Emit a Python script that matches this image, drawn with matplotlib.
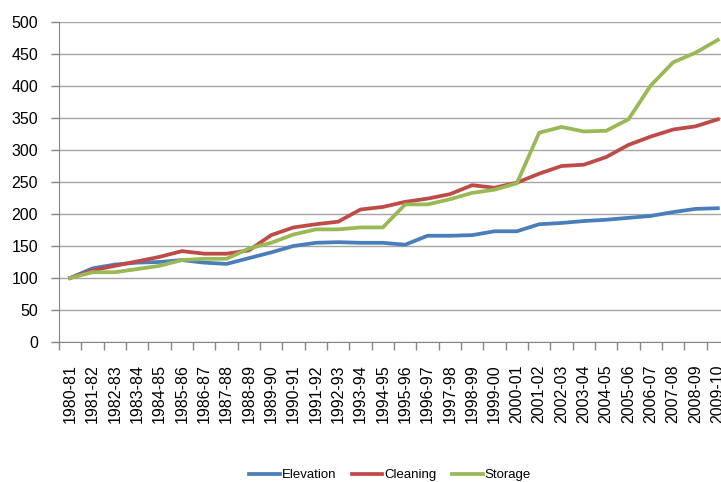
import numpy as np
import matplotlib.pyplot as plt

years = ['1980-81', '1981-82', '1982-83', '1983-84', '1984-85', '1985-86', '1986-87',
         '1987-88', '1988-89', '1989-90', '1990-91', '1991-92', '1992-93', '1993-94',
         '1994-95', '1995-96', '1996-97', '1997-98', '1998-99', '1999-00', '2000-01',
         '2001-02', '2002-03', '2003-04', '2004-05', '2005-06', '2006-07', '2007-08',
         '2008-09', '2009-10']

elevation = [100, 115, 121, 124, 125, 128, 124, 122, 131, 140, 150, 155, 156, 155,
             155, 152, 166, 166, 167, 173, 173, 184, 186, 189, 191, 194, 197, 203,
             208, 209]
cleaning = [100, 112, 119, 126, 133, 142, 138, 138, 143, 167, 179, 184, 188, 207,
            211, 219, 224, 231, 245, 241, 249, 263, 275, 277, 289, 308, 321, 332,
            337, 348]
storage = [100, 109, 109, 114, 119, 128, 130, 130, 146, 155, 168, 176, 176, 179,
           179, 215, 215, 223, 233, 238, 248, 327, 336, 329, 330, 348, 401, 437,
           452, 472]

plt.rcParams['font.family'] = ['Liberation Sans', 'DejaVu Sans']

fig = plt.figure(figsize=(7.21, 4.82), dpi=100)
ax = fig.add_axes([59 / 721, 140 / 482, 670 / 721, 320 / 482])

x = np.arange(len(years))
ax.plot(x, elevation, color='#4A7EBB', lw=2.7, label='Elevation')
ax.plot(x, cleaning, color='#BE4B48', lw=2.7, label='Cleaning')
ax.plot(x, storage, color='#98B954', lw=2.7, label='Storage')

ax.set_xlim(-0.5, len(years) - 0.5)
ax.set_ylim(0, 500)
ax.set_yticks(np.arange(0, 501, 50))
ax.grid(axis='y', color='#A6A6A6', lw=1)
ax.set_axisbelow(True)

# category labels sit between the boundary ticks
ax.set_xticks(x)
ax.set_xticklabels(years, rotation=90, fontsize=11.5)
ax.set_xticks(np.arange(-0.5, len(years), 1), minor=True)
ax.tick_params(axis='x', which='major', length=0, pad=16)
ax.tick_params(axis='x', which='minor', length=6, color='#868686', width=1)
ax.tick_params(axis='y', length=6, color='#868686', width=1, pad=9, labelsize=11.5)

for side in ['top', 'right']:
    ax.spines[side].set_visible(False)
for side in ['left', 'bottom']:
    ax.spines[side].set_color('#868686')

fig.legend(loc='center', bbox_to_anchor=(390 / 721, 7 / 482), ncol=3, frameon=False,
           fontsize=9.5, handlelength=2.3, handletextpad=0.15, columnspacing=1.2)

fig.savefig('out.png', dpi=100)
